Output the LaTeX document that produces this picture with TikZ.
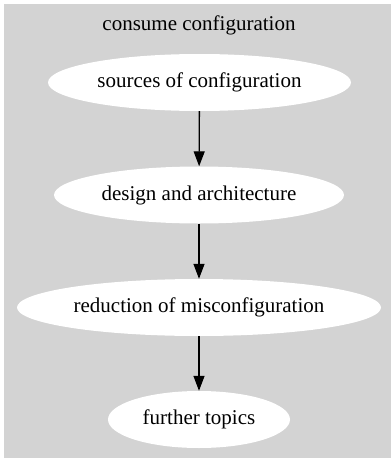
\documentclass[tikz,border=0pt]{standalone}
\usepackage{fontspec}
\setmainfont{Liberation Serif}
\usepackage{tikz}
\usetikzlibrary{arrows.meta,shapes,positioning}
\definecolor{clustergray}{HTML}{D3D3D3}
\tikzset{
  topic/.style={ellipse,fill=white,inner sep=0pt,minimum height=57pt,font=\fontsize{21}{25}\selectfont},
  flow/.style={-{Triangle[length=15pt,width=11pt]},line width=1.3pt}
}

\begin{document}
\begin{tikzpicture}[x=1pt,y=-1pt]
        \useasboundingbox (0,0) rectangle (391,458);
        \fill[clustergray] (4,4) rectangle (391,458);
        \node[font=\fontsize{21}{25}\selectfont] (title) at (199,25.5) {consume configuration};
        \node[topic,minimum width=303pt] (sources) at (199.5,82.5) {\raisebox{-1.5pt}{sources of configuration}};
        \node[topic,minimum width=290pt] (design) at (199,195) {\raisebox{-1.5pt}{design and architecture}};
        \node[topic,minimum width=364pt] (reduction) at (199,307.5) {\raisebox{-1.5pt}{reduction of misconfiguration}};
        \node[topic,minimum width=182pt] (further) at (199,419.5) {\raisebox{-1.5pt}{further topics}};
        \draw[flow] (sources) -- (design);
        \draw[flow] (design) -- (reduction);
        \draw[flow] (reduction) -- (further);
      \end{tikzpicture}
\end{document}
